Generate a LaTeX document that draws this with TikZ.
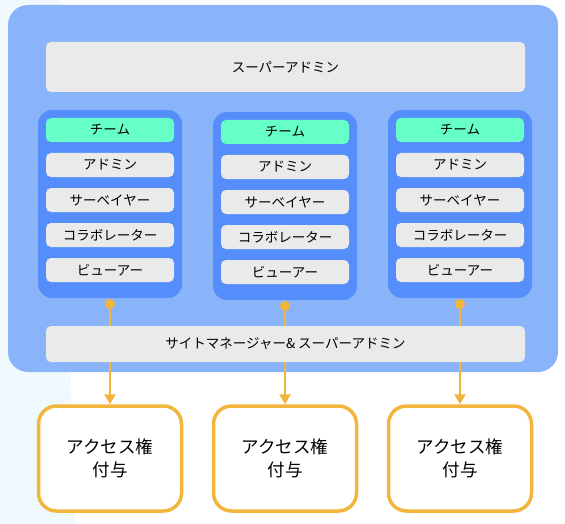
\documentclass[tikz,border=0pt]{standalone}
\usepackage{fontspec}
\newfontfamily\jpfont{Noto Sans CJK JP}
\usetikzlibrary{arrows.meta}

\definecolor{outerblue}{HTML}{8AB4FA}
\definecolor{teamblue}{HTML}{558EFA}
\definecolor{boxgray}{HTML}{EAEAEA}
\definecolor{teamgreen}{HTML}{66FFC8}
\definecolor{accorange}{HTML}{F2B63C}

\tikzset{
  graybox/.style={fill=boxgray, rounded corners=5pt, inner sep=0pt,
    font=\jpfont\fontsize{13.5}{16}\selectfont},
  teambox/.style={graybox, fill=teamgreen},
  grantbox/.style={draw=accorange, line width=3.5pt, fill=white, rounded corners=18pt,
    minimum width=143pt, minimum height=105pt, align=center,
    font=\jpfont\fontsize{17.5}{23}\selectfont},
  flow/.style={draw=accorange, line width=2.5pt, -{Triangle[length=10pt,width=11pt]}},
}

\begin{document}
\begin{tikzpicture}[x=1pt, y=-1pt]
  \useasboundingbox (0,0) rectangle (565,524);
  \fill[white] (0,0) rectangle (565,524);
  \fill[cyan!6] (0,0) -- (0,524) -- (75,524) -- (60,0) -- cycle;

  % outer panel
  \fill[outerblue, rounded corners=20pt] (8,5) rectangle (558,372);

  \node[graybox, minimum width=479pt, minimum height=50pt] (super) at (285.5,67) {スーパーアドミン};

  % team columns
  \foreach \n/\x/\dy in {1/110/0, 2/285/2, 3/460/0} {
    \fill[teamblue, rounded corners=14pt] (\x-72,110+\dy) rectangle (\x+72,298+\dy);
    \node[teambox, minimum width=128pt, minimum height=24pt] (team\n) at (\x,130+\dy) {チーム};
    \node[graybox, minimum width=128pt, minimum height=24pt] (admin\n) at (\x,165+\dy) {アドミン};
    \node[graybox, minimum width=128pt, minimum height=24pt] (surveyor\n) at (\x,200+\dy) {サーベイヤー};
    \node[graybox, minimum width=128pt, minimum height=24pt] (collab\n) at (\x,235+\dy) {コラボレーター};
    \node[graybox, minimum width=128pt, minimum height=24pt] (viewer\n) at (\x,270+\dy) {ビューアー};
    \coordinate (dot\n) at (\x,304+\dy);
    \node[grantbox] (grant\n) at (\x,458.5) {アクセス権\\付与};
    \draw[flow] (dot\n) -- (grant\n.north);
    \fill[accorange] (dot\n) circle (5pt);
  }
  % site manager bar, over the flows
  \node[graybox, minimum width=479pt, minimum height=36pt] (site) at (285.5,344) {サイトマネージャー\&\ スーパーアドミン};
\end{tikzpicture}
\end{document}
